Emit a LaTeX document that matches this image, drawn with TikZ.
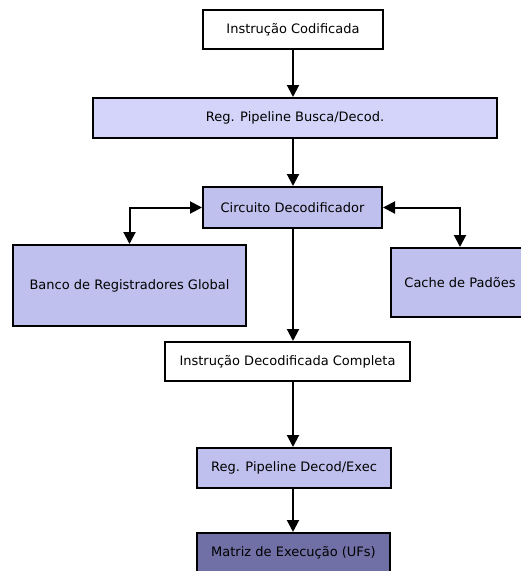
\documentclass[tikz,border=0pt]{standalone}
\usepackage{fontspec}
\setmainfont{DejaVu Sans}
\usetikzlibrary{arrows.meta}
\definecolor{cwhite}{RGB}{255,255,255}
\definecolor{clight}{RGB}{212,212,250}
\definecolor{cmid}{RGB}{192,192,238}
\definecolor{cdark}{RGB}{112,112,166}
\tikzset{
  box/.style={draw=black, line width=2pt, inner sep=0pt, font=\fontsize{13}{15}\selectfont},
  conn/.style={line width=2pt, -{Triangle[length=12pt,width=12pt]}},
  biconn/.style={line width=2pt, {Triangle[length=12pt,width=12pt]}-{Triangle[length=12pt,width=12pt]}}
}
\begin{document}
\begin{tikzpicture}[x=1pt,y=-1pt]
\useasboundingbox (0,0) rectangle (521,571);
\clip (0,0) rectangle (521,571);
\node[box, fill=cwhite, minimum width=180pt, minimum height=39pt] (ic) at (293,29.5) {Instrução Codificada};
\node[box, fill=clight, minimum width=404pt, minimum height=40pt] (busca) at (295,118) {Reg. Pipeline Busca/Decod.};
\node[box, fill=cmid, minimum width=179pt, minimum height=41pt] (circ) at (292.5,207.5) {Circuito Decodificador};
\node[box, fill=cmid, minimum width=233pt, minimum height=81pt] (banco) at (129.5,285.5) {Banco de Registradores Global};
\node[box, fill=cmid, minimum width=138pt, minimum height=69pt] (cache) at (460,282.5) {Cache de Padões};
\node[box, fill=cwhite, minimum width=245pt, minimum height=39pt] (dcomp) at (287.5,361.5) {Instrução Decodificada Completa};
\node[box, fill=cmid, minimum width=194pt, minimum height=40pt] (dexec) at (294,468) {Reg. Pipeline Decod/Exec};
\node[box, fill=cdark, minimum width=193pt, minimum height=40pt] (matriz) at (293.5,553) {Matriz de Execução (UFs)};
\coordinate (ax) at (293,0);
\draw[conn] (ic.south) -- (ic.south |- busca.north);
\draw[conn] (ax |- busca.south) -- (ax |- circ.north);
\draw[conn] (ax |- circ.south) -- (ax |- dcomp.north);
\draw[biconn] (circ.west) -| (banco.north);
\draw[biconn] (circ.east) -| (cache.north);
\draw[conn] (ax |- dcomp.south) -- (ax |- dexec.north);
\draw[conn] (ax |- dexec.south) -- (ax |- matriz.north);
\end{tikzpicture}
\end{document}
